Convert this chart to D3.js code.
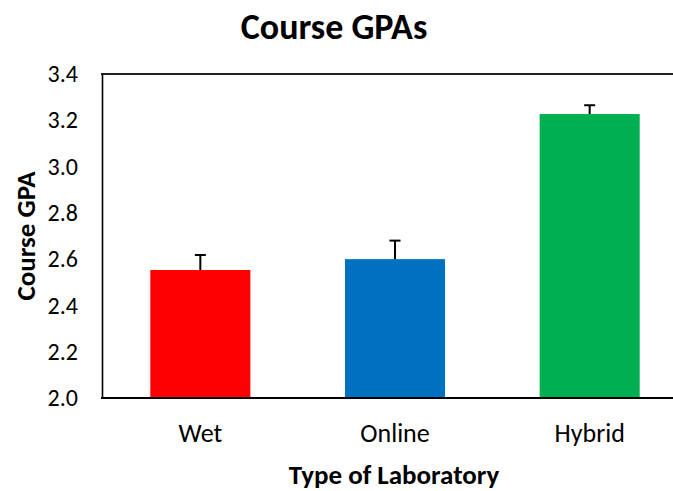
<!DOCTYPE html>
<html>
<head>
<meta charset="utf-8">
<script src="https://cdn.jsdelivr.net/npm/d3@7"></script>
<style>
  body { margin: 0; background: #fff; }
  text { font-family: Carlito, Calibri, Lato, sans-serif; }
</style>
</head>
<body>
<script>
let width = 673;
let height = 491;

// data
let categories = ["Wet", "Online", "Hybrid"];
let gpa = [2.553, 2.600, 3.227];
let gpaErr = [0.065, 0.080, 0.038];
let barColors = ["#FF0000", "#0070C0", "#00B050"];
let yTicks = [2.0, 2.2, 2.4, 2.6, 2.8, 3.0, 3.2, 3.4];

let svg = d3.select("body").append("svg")
            .attr("width", width)
            .attr("height", height);

let x = d3.scaleBand()
    .domain(categories)
    .range([103, 687])
    .paddingInner(0.486)
    .paddingOuter(0.243);

let y = d3.scaleLinear()
    .domain([2.0, 3.4])
    .range([398, 74]);

// top frame line (right side runs off the picture)
svg.append("line")
   .attr("x1", 101).attr("x2", width)
   .attr("y1", y(3.4)).attr("y2", y(3.4))
   .attr("stroke", "#222")
   .attr("stroke-width", 1.8);

// bars
svg.append("g")
   .selectAll("rect")
   .data(categories)
   .enter().append("rect")
   .attr("x", d => x(d))
   .attr("width", x.bandwidth())
   .attr("y", (d, i) => y(gpa[i]))
   .attr("height", (d, i) => y(2.0) - y(gpa[i]))
   .attr("fill", (d, i) => barColors[i]);

// error bars (upper only)
let err = svg.append("g")
             .attr("stroke", "#000")
             .attr("stroke-width", 2);

categories.forEach(function(c, i) {
  let cx = x(c) + x.bandwidth() / 2;
  err.append("line")
     .attr("x1", cx).attr("x2", cx)
     .attr("y1", y(gpa[i])).attr("y2", y(gpa[i] + gpaErr[i]));
  err.append("line")
     .attr("x1", cx - 5.5).attr("x2", cx + 5.5)
     .attr("y1", y(gpa[i] + gpaErr[i])).attr("y2", y(gpa[i] + gpaErr[i]));
});

// y axis
let yAxis = svg.append("g")
   .attr("transform", "translate(102,0)")
   .call(d3.axisLeft(y)
           .tickValues(yTicks)
           .tickFormat(d3.format(".1f"))
           .tickSize(0)
           .tickPadding(24));

yAxis.select(".domain").attr("stroke", "#000").attr("stroke-width", 1.6);
yAxis.selectAll("text")
     .attr("font-size", 24)
     .attr("font-family", null)
     .attr("fill", "#000");

// x axis
let xAxis = svg.append("g")
   .attr("transform", "translate(0,398)")
   .call(d3.axisBottom(x).tickSize(0).tickSizeOuter(0));

xAxis.select(".domain")
     .attr("d", "M101,0H" + width)
     .attr("stroke", "#000")
     .attr("stroke-width", 2.2);
xAxis.selectAll("text")
     .attr("y", 44)
     .attr("dy", null)
     .attr("font-size", 26)
     .attr("font-family", null)
     .attr("fill", "#000");

// titles
svg.append("text")
   .attr("x", 334).attr("y", 39)
   .attr("text-anchor", "middle")
   .attr("font-size", 36)
   .attr("font-weight", "bold")
   .text("Course GPAs");

svg.append("text")
   .attr("x", 394).attr("y", 484)
   .attr("text-anchor", "middle")
   .attr("font-size", 27)
   .attr("font-weight", "bold")
   .text("Type of Laboratory");

svg.append("text")
   .attr("transform", "translate(35,236) rotate(-90)")
   .attr("text-anchor", "middle")
   .attr("font-size", 27)
   .attr("font-weight", "bold")
   .text("Course GPA");
</script>
</body>
</html>
